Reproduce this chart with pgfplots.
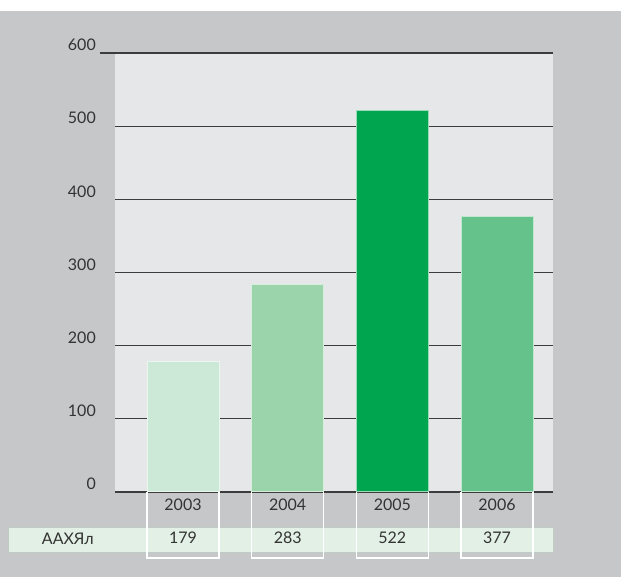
\documentclass[border=0pt]{standalone}
\usepackage{pgfplots}
\pgfplotsset{compat=1.18}
\usepackage{fontspec}
\setmainfont{Lato}
\definecolor{canvas}{HTML}{C6C7C9}
\definecolor{plotbg}{HTML}{E6E7E8}
\definecolor{gridc}{HTML}{3C3C3C}
\definecolor{txt}{HTML}{333333}
\definecolor{strip}{HTML}{E2F0E5}
\definecolor{cA}{HTML}{CCE8D6}
\definecolor{cB}{HTML}{9BD4AA}
\definecolor{cC}{HTML}{00A54F}
\definecolor{cD}{HTML}{66C28B}

\begin{document}
\begin{tikzpicture}[x=1pt,y=1pt]
\fill[white] (0,0) rectangle (621,577);
\fill[canvas] (0,0) rectangle (621,566);
\begin{axis}[
  at={(115pt,85pt)}, anchor=south west,
  scale only axis, width=438pt, height=439pt,
  xmin=-0.65, xmax=3.535, ymin=0, ymax=600,
  axis background/.style={fill=plotbg},
  axis line style={draw=none},
  major tick length=0pt,
  xtick=\empty,
  ytick={0,100,...,600},
  ymajorgrids,
  major grid style={gridc, line width=1.1pt, shorten <=-15pt},
  yticklabel style={anchor=south east, inner sep=0pt, xshift=-19pt, yshift=2pt,
    font=\fontsize{16}{18}\selectfont, text=txt},
  /pgf/number format/assume math mode=true,
  clip=false,
  ybar, bar width=72pt,
]
% bars
\addplot[fill=cA, draw=white!60!cA, line width=1pt, bar shift=0pt] coordinates {(0,179)};
\addplot[fill=cB, draw=white!60!cB, line width=1pt, bar shift=0pt] coordinates {(1,283)};
\addplot[fill=cC, draw=white!60!cC, line width=1pt, bar shift=0pt] coordinates {(2,522)};
\addplot[fill=cD, draw=white!60!cD, line width=1pt, bar shift=0pt] coordinates {(3,377)};

% table under the bars
\fill[strip, draw=strip!85!black] (axis cs:-1.672,-47.8) rectangle (axis cs:3.535,-82.0);
\draw[white, line width=1.2pt] (axis cs:-0.344,0) -- (axis cs:-0.344,-90.2) -- (axis cs:0.344,-90.2) -- (axis cs:0.344,0);
\draw[white, line width=1.2pt] (axis cs:0.656,0) -- (axis cs:0.656,-90.2) -- (axis cs:1.344,-90.2) -- (axis cs:1.344,0);
\draw[white, line width=1.2pt] (axis cs:1.656,0) -- (axis cs:1.656,-90.2) -- (axis cs:2.344,-90.2) -- (axis cs:2.344,0);
\draw[white, line width=1.2pt] (axis cs:2.656,0) -- (axis cs:2.656,-90.2) -- (axis cs:3.344,-90.2) -- (axis cs:3.344,0);

\begin{scope}[every node/.style={text=txt, font=\fontsize{16}{18}\selectfont}]
\node at (axis cs:0,-17.8) {2003};
\node at (axis cs:1,-17.8) {2004};
\node at (axis cs:2,-17.8) {2005};
\node at (axis cs:3,-17.8) {2006};
\node at (axis cs:0,-62.9) {179};
\node at (axis cs:1,-62.9) {283};
\node at (axis cs:2,-62.9) {522};
\node at (axis cs:3,-62.9) {377};
\node at (axis cs:-1.10,-64.0) {ААХЯл};
\end{scope}
\end{axis}
\pgfresetboundingbox
\useasboundingbox (0,0) rectangle (621,577);
\end{tikzpicture}
\end{document}
